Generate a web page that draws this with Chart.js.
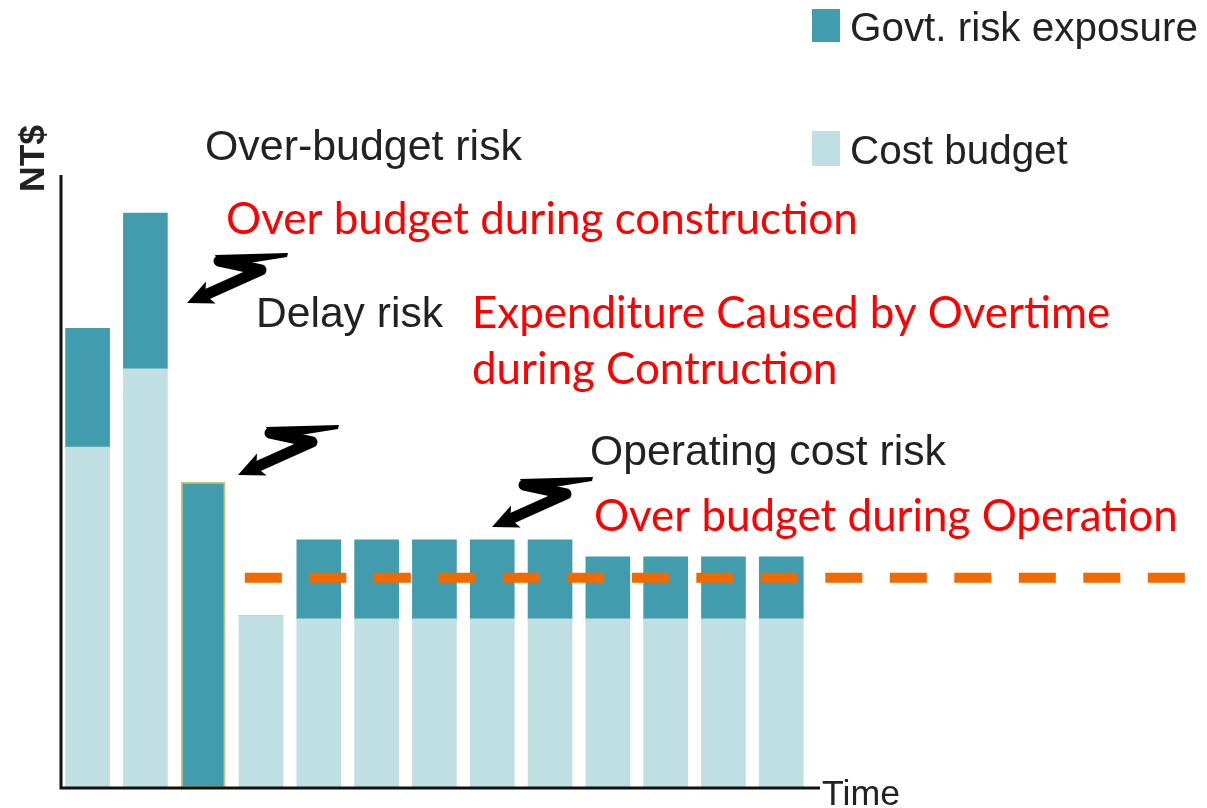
<!DOCTYPE html>
<html>
<head>
<meta charset="utf-8">
<script src="https://cdn.jsdelivr.net/npm/chart.js@4/dist/chart.umd.min.js"></script>
<style>
  html, body { margin: 0; padding: 0; background: #fff; }
  canvas { display: block; }
</style>
</head>
<body>
<canvas id="riskChart" width="1207" height="808"></canvas>
<script>
// --- Data (y in % of axis height) ---
const periods = [1, 2, 3, 4, 5, 6, 7, 8, 9, 10, 11, 12, 13];
const costBudget   = [55.6, 68.4, 0, 28.1, 27.6, 27.6, 27.6, 27.6, 27.6, 27.6, 27.6, 27.6, 27.6];
const riskExposure = [19.4, 25.4, 49.9, 0, 12.9, 12.9, 12.9, 12.9, 12.9, 10.1, 10.1, 10.1, 10.1];
const budgetLevel  = [34.3, 34.3];
const budgetLevelX = [3.72, 21];

const DARK = '#419CAE';
const LIGHT = '#C0DFE3';
const ORANGE = '#F06A00';

// fit text to a target width by scaling font size
function fitText(ctx, text, x, y, width, family, weight) {
  ctx.font = (weight || '') + ' 100px ' + family;
  const size = 100 * width / ctx.measureText(text).width;
  ctx.font = (weight || '') + ' ' + size.toFixed(1) + 'px ' + family;
  ctx.fillText(text, x, y);
}

// lightning arrow, tip at (tx, ty)
function boltArrow(ctx, tx, ty) {
  ctx.save();
  ctx.translate(tx, ty);
  ctx.fillStyle = '#000';
  ctx.strokeStyle = '#000';
  // top tapered stroke
  ctx.beginPath();
  ctx.moveTo(101, -50);
  ctx.lineTo(100, -46);
  ctx.lineTo(50, -38);
  ctx.lineTo(34, -36);
  ctx.lineTo(28, -48);
  ctx.closePath();
  ctx.fill();
  ctx.lineCap = 'round';
  ctx.lineJoin = 'round';
  ctx.lineWidth = 11;
  ctx.beginPath();
  ctx.moveTo(32, -42);
  ctx.lineTo(74, -33);
  ctx.lineTo(16, -7);
  ctx.stroke();
  // head
  const dx = -0.916, dy = 0.401;
  const px = -dy, py = dx;
  ctx.beginPath();
  ctx.moveTo(0, 0);
  ctx.lineTo(-dx * 26 + px * 12, -dy * 26 + py * 12);
  ctx.lineTo(-dx * 20, -dy * 20);
  ctx.lineTo(-dx * 26 - px * 12, -dy * 26 - py * 12);
  ctx.closePath();
  ctx.fill();
  ctx.restore();
}

const decorations = {
  id: 'decorations',
  afterDraw(chart) {
    const { ctx, chartArea } = chart;
    ctx.save();
    // axes
    ctx.strokeStyle = '#111';
    ctx.lineWidth = 3;
    ctx.beginPath();
    ctx.moveTo(chartArea.left, chartArea.top);
    ctx.lineTo(chartArea.left, chartArea.bottom);
    ctx.lineTo(chartArea.right, chartArea.bottom);
    ctx.stroke();

    // legend
    ctx.fillStyle = DARK;
    ctx.fillRect(812, 9, 28, 33);
    ctx.fillStyle = LIGHT;
    ctx.fillRect(812, 131, 28, 35);

    ctx.fillStyle = '#222';
    ctx.textBaseline = 'alphabetic';
    ctx.textAlign = 'left';
    const arial = '"Liberation Sans", Arial, sans-serif';
    fitText(ctx, 'Govt. risk exposure', 850, 41, 348, arial);
    fitText(ctx, 'Cost budget', 850, 164, 218, arial);
    fitText(ctx, 'Over-budget risk', 205, 160, 317, arial);
    fitText(ctx, 'Delay risk', 256, 327, 187, arial);
    fitText(ctx, 'Operating cost risk', 590, 465, 356, arial);
    fitText(ctx, 'Time', 822, 805, 78, arial);

    // y-axis title
    ctx.save();
    ctx.translate(44, 192);
    ctx.rotate(-Math.PI / 2);
    fitText(ctx, 'NT$', 0, 0, 67, arial, 'bold');
    ctx.restore();

    // red annotations
    ctx.fillStyle = '#FF0000';
    const cal = 'Lato, "Noto Sans", sans-serif';
    fitText(ctx, 'Over budget during construction', 226, 234, 632, cal);
    fitText(ctx, 'Expenditure Caused by Overtime', 472, 328, 638, cal);
    fitText(ctx, 'during Contruction', 472, 384, 366, cal);
    fitText(ctx, 'Over budget during Operation', 594, 531, 584, cal);

    // arrows
    boltArrow(ctx, 187, 303);
    boltArrow(ctx, 238, 475);
    boltArrow(ctx, 492, 527);
    ctx.restore();
  }
};

new Chart(document.getElementById('riskChart'), {
  data: {
    datasets: [
      {
        type: 'line',
        label: 'Budget level',
        data: budgetLevelX.map((x, i) => ({ x, y: budgetLevel[i] })),
        borderColor: ORANGE,
        borderWidth: 10,
        borderDash: [37, 27.5],
        borderCapStyle: 'butt',
        pointRadius: 0,
        clip: false,
        order: 0
      },
      {
        type: 'bar',
        label: 'Cost budget',
        data: periods.map((p, i) => ({ x: p, y: costBudget[i] })),
        backgroundColor: LIGHT,
        borderWidth: 0,
        barThickness: 44,
        stack: 's',
        order: 1
      },
      {
        type: 'bar',
        label: 'Govt. risk exposure',
        data: periods.map((p, i) => ({ x: p, y: riskExposure[i] })),
        backgroundColor: DARK,
        borderColor: periods.map(p => p === 3 ? '#B8C77A' : DARK),
        borderWidth: periods.map(p => p === 3 ? 2 : 0),
        borderSkipped: false,
        barThickness: 44,
        stack: 's',
        order: 1
      }
    ]
  },
  options: {
    responsive: false,
    animation: false,
    layout: { padding: { left: 61, top: 175, right: 387, bottom: 20 } },
    plugins: {
      legend: { display: false },
      tooltip: { enabled: false }
    },
    scales: {
      x: { type: 'linear', min: 0.54, max: 13.67, offset: false, display: false, stacked: true },
      y: { min: 0, max: 100, display: false, stacked: true }
    }
  },
  plugins: [decorations]
});
</script>
</body>
</html>
